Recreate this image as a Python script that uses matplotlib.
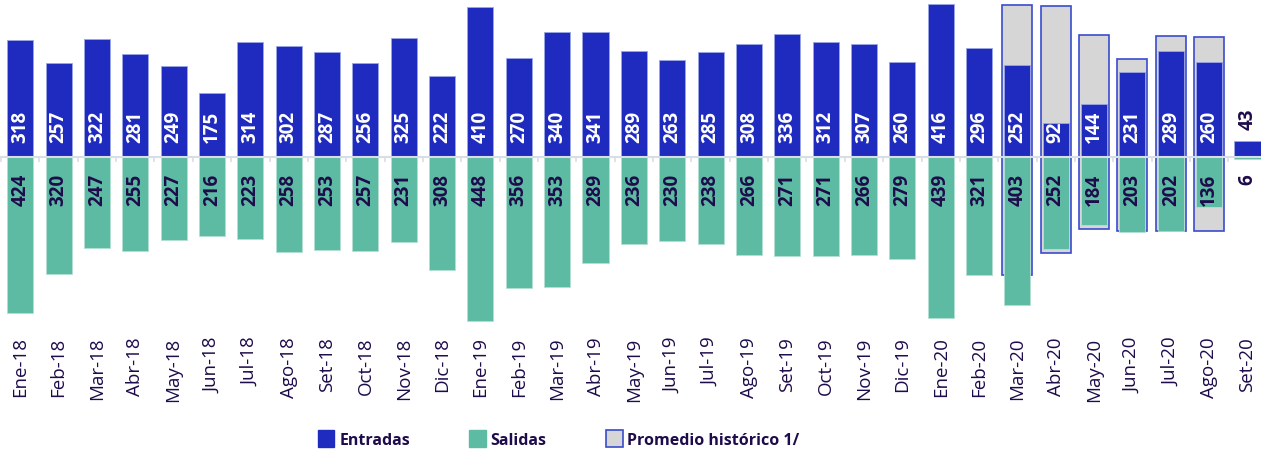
import matplotlib
matplotlib.use("Agg")
import matplotlib.pyplot as plt
from matplotlib.patches import Patch
import numpy as np

categories = ["Ene-18", "Feb-18", "Mar-18", "Abr-18", "May-18", "Jun-18", "Jul-18", "Ago-18",
              "Set-18", "Oct-18", "Nov-18", "Dic-18",
              "Ene-19", "Feb-19", "Mar-19", "Abr-19", "May-19", "Jun-19", "Jul-19", "Ago-19",
              "Set-19", "Oct-19", "Nov-19", "Dic-19",
              "Ene-20", "Feb-20", "Mar-20", "Abr-20", "May-20", "Jun-20", "Jul-20", "Ago-20", "Set-20"]
entradas = [318, 257, 322, 281, 249, 175, 314, 302, 287, 256, 325, 222,
            410, 270, 340, 341, 289, 263, 285, 308, 336, 312, 307, 260,
            416, 296, 252, 92, 144, 231, 289, 260, 43]
salidas = [424, 320, 247, 255, 227, 216, 223, 258, 253, 257, 231, 308,
           448, 356, 353, 289, 236, 230, 238, 266, 271, 271, 266, 279,
           439, 321, 403, 252, 184, 203, 202, 136, 6]
prom_categories = ["Mar-20", "Abr-20", "May-20", "Jun-20", "Jul-20", "Ago-20"]
prom_entradas = [414, 411, 332, 267, 330, 327]
prom_salidas = [322, 262, 196, 202, 202, 202]

C_ENT = "#1F2BBE"
C_SAL = "#5DBBA3"
C_GREY = "#D6D6D6"
C_EDGE = "#3A4BCF"
C_TEXT = "#1E0B4B"

plt.rcParams["font.family"] = ["Open Sans", "DejaVu Sans"]

fig = plt.figure(figsize=(12.61, 4.52), dpi=100)
ax = fig.add_axes([0, 0.281, 1, 0.719])

x = np.arange(len(categories))
pidx = np.array([categories.index(c) for c in prom_categories])

# historical average boxes (behind)
ax.bar(pidx, prom_entradas, width=0.78, color=C_GREY, edgecolor=C_EDGE, linewidth=1.2, zorder=1)
ax.bar(pidx, [-v for v in prom_salidas], width=0.78, color=C_GREY, edgecolor=C_EDGE, linewidth=1.2, zorder=1)

ax.bar(x, entradas, width=0.68, color=C_ENT, edgecolor="#9AA6E6", linewidth=0.6, zorder=2)
ax.bar(x, [-v for v in salidas], width=0.68, color=C_SAL, edgecolor="#B5E0D4", linewidth=0.6, zorder=2)

# zero line and boundary ticks
ax.axhline(0, color="#D8DEE6", linewidth=1.5, zorder=3)
ax.vlines(np.arange(len(categories)) - 0.5, -14, 0, color="#D8DEE6", linewidth=1.2, zorder=3)

for i, (e, s) in enumerate(zip(entradas, salidas)):
    if e >= 80:
        ax.annotate(str(e), xy=(i, 0), xytext=(0, 10.5), textcoords="offset points",
                    rotation=90, ha="center", va="bottom", fontsize=13.5,
                    fontweight="bold", color="white", zorder=4)
    else:
        ax.annotate(str(e), xy=(i, e), xytext=(0, 9), textcoords="offset points",
                    rotation=90, ha="center", va="bottom", fontsize=13.5,
                    fontweight="bold", color=C_TEXT, zorder=4)
    ax.annotate(str(s), xy=(i, 0), xytext=(0, -11.5), textcoords="offset points",
                rotation=90, ha="center", va="top", fontsize=13.5,
                fontweight="bold", color=C_TEXT, zorder=4)

ax.set_xlim(-0.527, len(categories) - 1 + 0.352)
ax.set_ylim(-455, 430.5)
ax.set_xticks(x)
ax.set_xticklabels(categories, rotation=90, fontsize=13.5, color=C_TEXT)
ax.tick_params(axis="x", length=0, pad=9)
ax.set_yticks([])
for sp in ax.spines.values():
    sp.set_visible(False)

handles = [Patch(facecolor=C_ENT, edgecolor=C_ENT),
           Patch(facecolor=C_SAL, edgecolor=C_SAL),
           Patch(facecolor=C_GREY, edgecolor=C_EDGE, linewidth=1.2)]
leg = fig.legend(handles, ["Entradas", "Salidas", "Promedio histórico 1/"], loc="center",
                 bbox_to_anchor=(0.443, 0.026), ncol=3, frameon=False,
                 prop={"weight": "bold", "size": 11.5}, handlelength=1.05, handleheight=1.2,
                 handletextpad=0.3, columnspacing=3.7)
for t in leg.get_texts():
    t.set_color(C_TEXT)

fig.savefig("out.png", dpi=100)
